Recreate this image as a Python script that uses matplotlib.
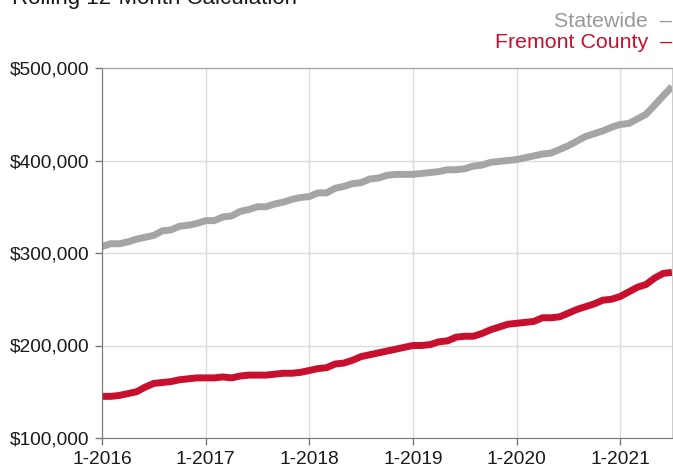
import matplotlib
matplotlib.use("Agg")
import matplotlib.pyplot as plt

plt.rcParams['font.family'] = ['Liberation Sans', 'DejaVu Sans']

# monthly rolling 12-month values, 1-2016 .. 7-2021
statewide = [307000, 310000, 310000, 312000, 315000, 317000, 319000, 324000, 325000, 329000, 330000, 332000,
             335000, 335000, 339000, 340000, 345000, 347000, 350000, 350000, 353000, 355000, 358000, 360000,
             361000, 365000, 365000, 370000, 372000, 375000, 376000, 380000, 381000, 384000, 385000, 385000,
             385000, 386000, 387000, 388000, 390000, 390000, 391000, 394000, 395000, 398000, 399000, 400000,
             401000, 403000, 405000, 407000, 408000, 412000, 416000, 421000, 426000, 429000, 432000, 436000,
             439000, 440000, 445000, 450000, 460000, 470000, 480000]
fremont = [145000, 145000, 146000, 148000, 150000, 155000, 159000, 160000, 161000, 163000, 164000, 165000,
           165000, 165000, 166000, 165000, 167000, 168000, 168000, 168000, 169000, 170000, 170000, 171000,
           173000, 175000, 176000, 180000, 181000, 184000, 188000, 190000, 192000, 194000, 196000, 198000,
           200000, 200000, 201000, 204000, 205000, 209000, 210000, 210000, 213000, 217000, 220000, 223000,
           224000, 225000, 226000, 230000, 230000, 231000, 235000, 239000, 242000, 245000, 249000, 250000,
           253000, 258000, 263000, 266000, 273000, 278000, 279000]
months = list(range(len(statewide)))

tick_pos = [0, 12, 24, 36, 48, 60]
tick_labels = ["1-2016", "1-2017", "1-2018", "1-2019", "1-2020", "1-2021"]
y_ticks = [100000, 200000, 300000, 400000, 500000]

gray = "#a5a5a5"
red = "#c8102e"

fig = plt.figure(figsize=(6.73, 4.70), dpi=100)
ax = fig.add_axes([102 / 673, 1 - 438 / 470, 570 / 673, 370 / 470])

ax.plot(months, statewide, color=gray, linewidth=5, solid_capstyle="butt", solid_joinstyle="round")
ax.plot(months, fremont, color=red, linewidth=5, solid_capstyle="butt", solid_joinstyle="round")

ax.set_xlim(0, 66)
ax.set_ylim(100000, 500000)
ax.set_xticks(tick_pos)
ax.set_xticklabels(tick_labels)
ax.set_yticks(y_ticks)
ax.set_yticklabels(["${:,.0f}".format(v) for v in y_ticks])

ax.grid(True, color="#dcdcdc", linewidth=1)
ax.set_axisbelow(True)
ax.tick_params(axis="both", labelsize=13.8, colors="#777777", labelcolor="#1a1a1a",
               length=5, width=1)
ax.tick_params(axis="x", pad=4.5)
ax.tick_params(axis="y", pad=4)
ax.spines["left"].set_color("#777777")
ax.spines["bottom"].set_color("#777777")
ax.spines["top"].set_color("#a0a0a0")
ax.spines["right"].set_color("#cccccc")

fig.text(12 / 673, 1 - 4 / 470, "Rolling 12-Month Calculation", fontsize=16,
         color="#1a1a1a", ha="left", va="baseline")
fig.text(672 / 673, 1 - 26.7 / 470, "Statewide  \u2013", fontsize=15.4,
         color="#999999", ha="right", va="baseline")
fig.text(672 / 673, 1 - 48.3 / 470, "Fremont County  \u2013", fontsize=15.4,
         color=red, ha="right", va="baseline")

fig.savefig("out.png", dpi=100)
